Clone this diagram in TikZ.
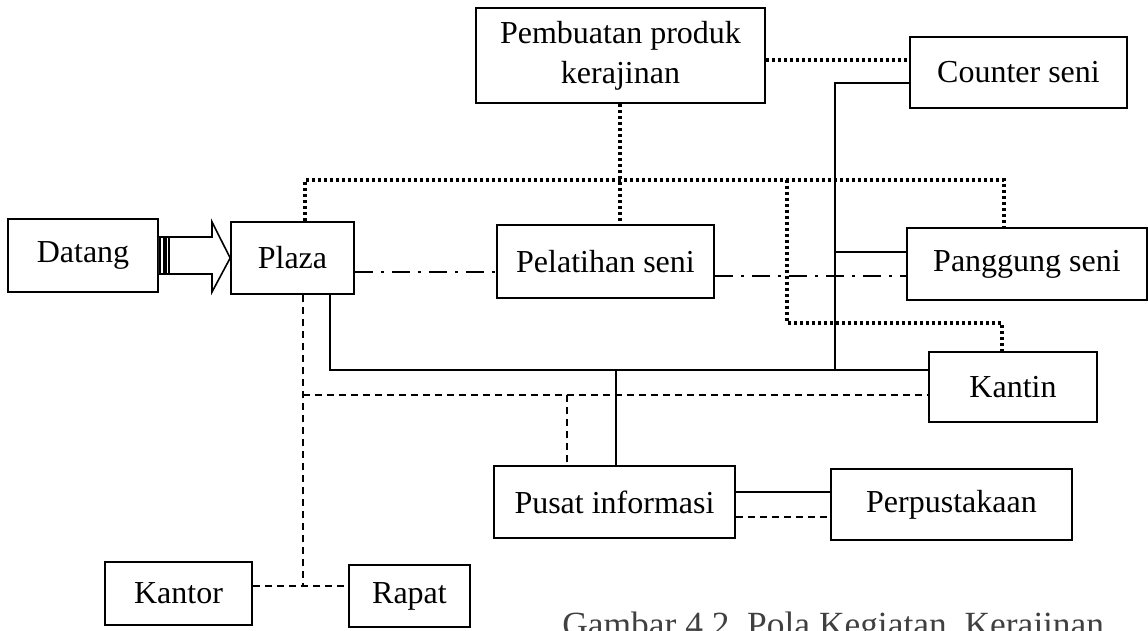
\documentclass[tikz,border=0pt]{standalone}
\usepackage{fontspec}
\setmainfont{Liberation Serif}
\usetikzlibrary{calc}

\tikzset{
  box/.style={draw, line width=0.8pt, inner sep=0pt, align=center},
  dotline/.style={line width=1.6pt, dash pattern=on 1.5pt off 1.5pt},
  dashline/.style={line width=0.6pt, dash pattern=on 3.5pt off 2.5pt},
  dashdotline/.style={line width=0.7pt, dash pattern=on 9pt off 4pt on 1.5pt off 4pt},
  solidline/.style={line width=0.8pt}
}

\begin{document}
\begin{tikzpicture}[x=0.5pt, y=-0.5pt, font=\fontsize{16}{20}\selectfont]
\useasboundingbox (0,0) rectangle (1148,631);
% activity boxes: name / centre / width x height (pt)
\foreach \nm/\cx/\cy/\w/\h/\txt in {
  datang/83/255.5/75/36.5/{Datang},
  plaza/292.5/258/61.5/36/{Plaza},
  counter/1018.5/72.5/108.5/35.5/{Counter seni},
  pelatihan/605.5/261.5/108.5/36.5/{Pelatihan seni},
  panggung/1027/264/120/36/{Panggung seni},
  kantin/1013/387/84/35/{Kantin},
  pusat/614.5/502/120.5/36/{Pusat informasi},
  perpus/951.5/504.5/120.5/35.5/{Perpustakaan},
  kantor/178.5/593.5/73.5/31.5/{Kantor},
  rapat/409.5/596/60.5/31/{Rapat}}{
  \node[box, minimum width=\w pt, minimum height=\h pt] (\nm) at (\cx,\cy) {\txt};
}
\node[box, minimum width=144.5pt, minimum height=47.5pt] (pembuatan) at (620.5,55.5) {Pembuatan produk\\kerajinan};
% entrance arrow Datang -> Plaza
\draw[solidline, fill=white] ($(datang.east)+(0,-18.5)$) -- (212,237) -- (212,222) -- (plaza.west)
  -- (212,292) -- (212,274) -- ($(datang.east)+(0,18.5)$);
\foreach \sx/\lw in {160/1.2pt, 164.5/2pt, 169/1pt}
  \draw[line width=\lw] (\sx,237) -- (\sx,274);
% dotted links
\draw[dotline] (pembuatan.east |- 0,60) -- (counter.west |- 0,60);
\draw[dotline] (pembuatan.south -| 620,0) -- (pelatihan.north -| 620,0);
\draw[dotline] (plaza.north -| 305,0) |- (1004,180) -- (panggung.north -| 1004,0);
\draw[dotline] (787,180) |- (1002,323) -- (kantin.north -| 1002,0);
% dash-dot line through Pelatihan seni
\draw[dashdotline] (plaza.east |- 0,272) -- (pelatihan.west |- 0,272);
\draw[dashdotline] (pelatihan.east |- 0,276) -- (panggung.west |- 0,276);
% solid links
\draw[solidline] (plaza.south -| 330,0) |- (kantin.west |- 0,370);
\draw[solidline] (counter.west |- 0,83) -| (835,370);
\draw[solidline] (835,252) -- (panggung.west |- 0,252);
\draw[solidline] (616,370) -- (pusat.north -| 616,0);
\draw[solidline] (pusat.east |- 0,492) -- (perpus.west |- 0,492);
% dashed links
\draw[dashline] (plaza.south -| 303,0) -- (303,586);
\draw[dashline] (303,395) -- (kantin.west |- 0,395);
\draw[dashline] (567,395) -- (pusat.north -| 567,0);
\draw[dashline] (pusat.east |- 0,517) -- (perpus.west |- 0,517);
\draw[dashline] (kantor.east |- 0,586) -- (rapat.west |- 0,586);
% caption, cut by the lower edge
\node[anchor=base west, inner sep=0pt, text=black!75, font=\fontsize{17.7}{20}\selectfont] (caption) at (562,636) {Gambar 4.2\enspace Pola Kegiatan\enspace Kerajinan};
\end{tikzpicture}
\end{document}
